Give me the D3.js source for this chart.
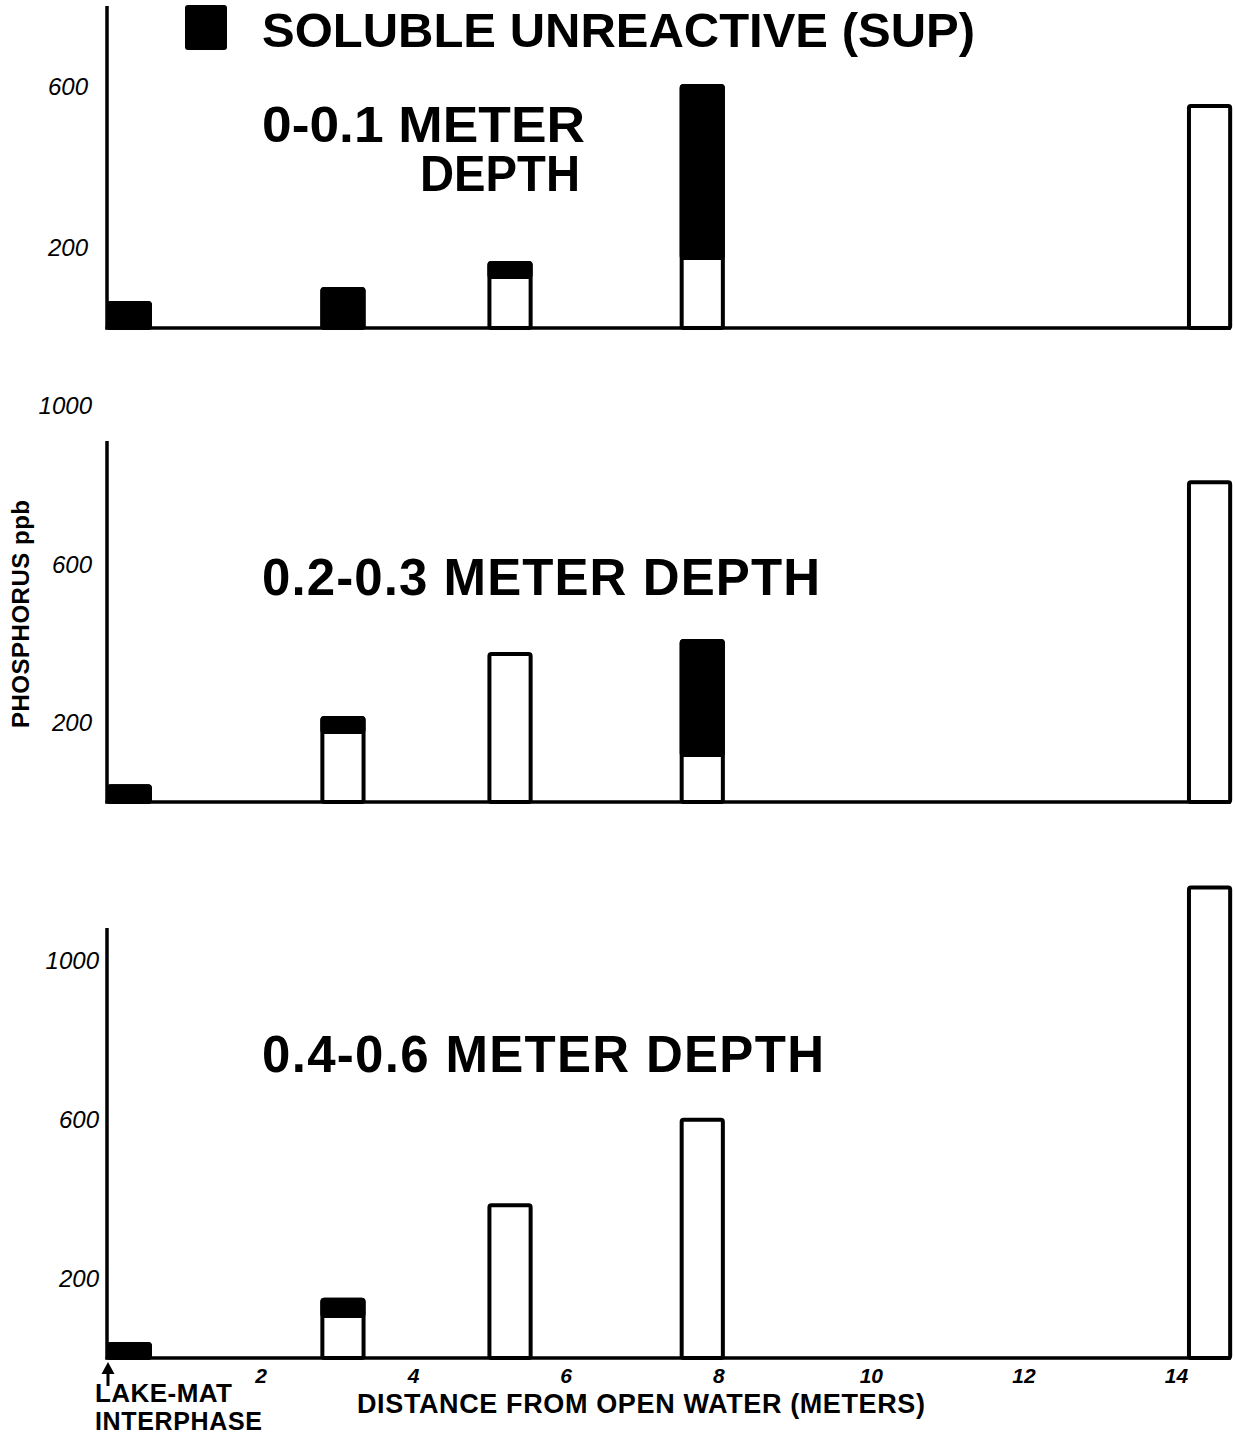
<!DOCTYPE html>
<html>
<head>
<meta charset="utf-8">
<script src="https://cdn.jsdelivr.net/npm/d3@7"></script>
<style>
  body { margin: 0; background: #fff; }
  text { font-family: "Liberation Sans", Arial, sans-serif; fill: #000; }
</style>
</head>
<body>
<div class="container"></div>
<script>
// sample stations, metres from open water (bar centres)
var distance = [0.28, 3.08, 5.27, 7.79, 14.44];
var xTicks = [2, 4, 6, 8, 10, 12, 14];

// soluble reactive (white part) and soluble unreactive (black top) per depth, ppb
var srpTop = [0, 0, 127, 174, 552];
var supTop = [62, 97, 35, 428, 0];
var srpMid = [0, 177, 374, 119, 808];
var supMid = [40, 35, 0, 288, 0];
var srpBot = [0, 106, 385, 600, 1185];
var supBot = [35, 41, 0, 0, 0];

var depthLabels = ["0-0.1 METER", "0.2-0.3 METER DEPTH", "0.4-0.6 METER DEPTH"];
var yTicksTop = [200, 600];
var yTicksMid = [200, 600, 1000];
var yTicksBot = [200, 600, 1000];

var W = 1235, H = 1436;
var barWidth = 0.54; // metres

var svg = d3.select("div.container").append("svg")
    .attr("width", W)
    .attr("height", H);

var x = d3.scaleLinear().domain([0, 14]).range([108, 1176]);

// one entry per panel: where the baseline sits and what value the axis top reaches
var panels = [
  {srp: srpTop, sup: supTop, ticks: yTicksTop, base: 328, top: 6,   max: 801,  labelX: 88},
  {srp: srpMid, sup: supMid, ticks: yTicksMid, base: 802, top: 441, max: 912,  labelX: 92},
  {srp: srpBot, sup: supBot, ticks: yTicksBot, base: 1358, top: 928, max: 1083, labelX: 99}
];

panels.forEach(function(p, k) {
  var y = d3.scaleLinear().domain([0, p.max]).range([p.base, p.top]);
  var g = svg.append("g");

  // tick labels only, no tick marks
  var ax = g.append("g")
      .attr("transform", "translate(" + p.labelX + ",0)")
      .call(d3.axisLeft(y).tickValues(p.ticks).tickFormat(d3.format("d")).tickSize(0).tickPadding(0));
  ax.select(".domain").remove();
  ax.selectAll("text")
      .attr("font-family", "Liberation Sans, Arial, sans-serif")
      .attr("font-style", "italic")
      .attr("font-size", 24)
      .attr("fill", "#000");

  var rows = distance.map(function(d, i) {
    return {d: d, srp: p.srp[i], sup: p.sup[i]};
  });

  var bars = g.selectAll(".bar").data(rows).enter().append("g");

  bars.append("rect")
      .attr("x", function(r) { return x(r.d - barWidth / 2); })
      .attr("width", x(barWidth) - x(0))
      .attr("y", function(r) { return y(r.srp + r.sup); })
      .attr("height", function(r) { return y(0) - y(r.srp + r.sup); })
      .attr("rx", 2)
      .attr("fill", "#fff")
      .attr("stroke", "#000")
      .attr("stroke-width", 4);

  bars.filter(function(r) { return r.sup > 0; }).append("rect")
      .attr("x", function(r) { return x(r.d - barWidth / 2); })
      .attr("width", x(barWidth) - x(0))
      .attr("y", function(r) { return y(r.srp + r.sup); })
      .attr("height", function(r) { return y(r.srp) - y(r.srp + r.sup); })
      .attr("rx", 2)
      .attr("fill", "#000")
      .attr("stroke", "#000")
      .attr("stroke-width", 4);

  // axes drawn by hand, thick pen lines
  g.append("line")
      .attr("x1", 107).attr("x2", 107)
      .attr("y1", p.top).attr("y2", p.base + 1.5)
      .attr("stroke", "#000").attr("stroke-width", 3.5);
  g.append("line")
      .attr("x1", 105.5).attr("x2", 1231)
      .attr("y1", p.base).attr("y2", p.base)
      .attr("stroke", "#000").attr("stroke-width", 3.5);
});

// depth titles (top one wraps onto two lines)
var t1 = svg.append("text")
    .attr("font-size", 50).attr("font-weight", "bold");
t1.append("tspan").attr("x", 262).attr("y", 142)
    .attr("textLength", 323).attr("lengthAdjust", "spacingAndGlyphs")
    .text(depthLabels[0]);
t1.append("tspan").attr("x", 420).attr("y", 191)
    .attr("textLength", 160).attr("lengthAdjust", "spacingAndGlyphs")
    .text("DEPTH");
svg.append("text").attr("x", 262).attr("y", 595)
    .attr("font-size", 51).attr("font-weight", "bold")
    .attr("textLength", 558).attr("lengthAdjust", "spacing")
    .text(depthLabels[1]);
svg.append("text").attr("x", 262).attr("y", 1072)
    .attr("font-size", 51).attr("font-weight", "bold")
    .attr("textLength", 562).attr("lengthAdjust", "spacing")
    .text(depthLabels[2]);

// legend
svg.append("rect")
    .attr("x", 185).attr("y", 5).attr("width", 42).attr("height", 45)
    .attr("rx", 3).attr("fill", "#000");
svg.append("text").attr("x", 262).attr("y", 47)
    .attr("font-size", 49).attr("font-weight", "bold")
    .attr("textLength", 713).attr("lengthAdjust", "spacing")
    .text("SOLUBLE UNREACTIVE (SUP)");

// y title
svg.append("text")
    .attr("transform", "translate(29,614) rotate(-90)")
    .attr("text-anchor", "middle")
    .attr("font-size", 24).attr("font-weight", "bold")
    .attr("textLength", 228).attr("lengthAdjust", "spacing")
    .text("PHOSPHORUS ppb");

// bottom distance axis labels
var xax = svg.append("g")
    .attr("transform", "translate(0,1368)")
    .call(d3.axisBottom(x).tickValues(xTicks).tickSize(0).tickPadding(0));
xax.select(".domain").remove();
xax.selectAll("text")
    .attr("font-family", "Liberation Sans, Arial, sans-serif")
    .attr("font-style", "italic")
    .attr("font-weight", "bold")
    .attr("font-size", 21)
    .attr("fill", "#000");

// arrow marking the lake-mat interphase at 0 m
svg.append("path")
    .attr("d", "M" + x(0) + ",1386 L" + x(0) + ",1370")
    .attr("stroke", "#000").attr("stroke-width", 3);
svg.append("path")
    .attr("d", "M" + (x(0) - 6.5) + ",1374 L" + x(0) + ",1362 L" + (x(0) + 6.5) + ",1374 Z")
    .attr("fill", "#000");

svg.append("text").attr("x", 95).attr("y", 1402)
    .attr("font-size", 26).attr("font-weight", "bold")
    .attr("textLength", 137).attr("lengthAdjust", "spacing")
    .text("LAKE-MAT");
svg.append("text").attr("x", 95).attr("y", 1430)
    .attr("font-size", 25).attr("font-weight", "bold")
    .attr("textLength", 167).attr("lengthAdjust", "spacing")
    .text("INTERPHASE");
svg.append("text").attr("x", 357).attr("y", 1413)
    .attr("font-size", 27).attr("font-weight", "bold")
    .attr("textLength", 568).attr("lengthAdjust", "spacing")
    .text("DISTANCE FROM OPEN WATER (METERS)");
</script>
</body>
</html>
